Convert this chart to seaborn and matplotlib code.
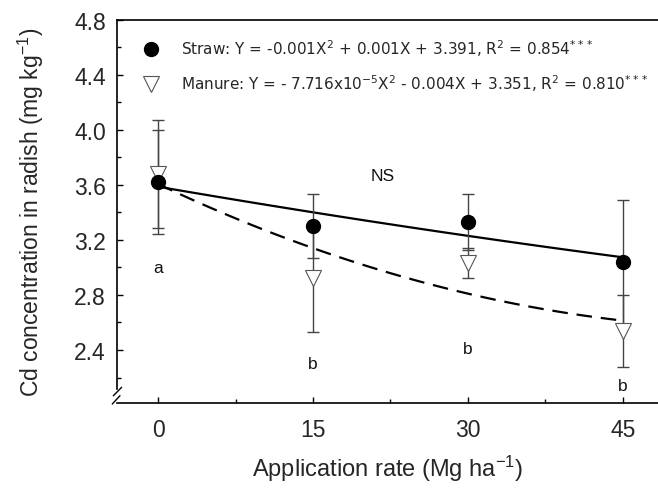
import matplotlib
matplotlib.use('Agg')
import matplotlib.pyplot as plt
from matplotlib.lines import Line2D
from matplotlib.ticker import FixedLocator
import numpy as np
import seaborn as sns

# data
rates = [0, 15, 30, 45]
straw_mean = [3.62, 3.30, 3.33, 3.04]
straw_err = [0.38, 0.235, 0.20, 0.45]
manure_mean = [3.68, 2.92, 3.03, 2.54]
manure_err = [0.39, 0.39, 0.11, 0.26]

# significance letters (x, y, text)
letter_x = [21.7, 0, 15, 30, 45]
letter_y = [3.67, 3.00, 2.30, 2.41, 2.145]
letter_txt = ["NS", "a", "b", "b", "b"]

straw_label = r"Straw: Y = -0.001X$^2$ + 0.001X + 3.391, R$^2$ = 0.854$^{***}$"
manure_label = r"Manure: Y = - 7.716x10$^{-5}$X$^2$ - 0.004X + 3.351, R$^2$ = 0.810$^{***}$"

sns.set_theme(style="ticks")
plt.rcParams['font.family'] = ['Liberation Sans', 'DejaVu Sans']
plt.rcParams['mathtext.default'] = 'regular'

fig = plt.figure(figsize=(6.58, 4.89), dpi=100)
ax = fig.add_axes([117 / 658, 85 / 489, 541 / 658, 383.3 / 489])

# quadratic regression curves through the means
sns.regplot(x=rates, y=straw_mean, order=2, ci=None, scatter=False, ax=ax,
            line_kws={'color': 'black', 'lw': 1.6, 'zorder': 2})
sns.regplot(x=rates, y=manure_mean, order=2, ci=None, scatter=False, ax=ax,
            line_kws={'color': 'black', 'lw': 1.6, 'ls': '--', 'dashes': (7, 4), 'zorder': 2})

# error bars
ax.errorbar(rates, manure_mean, yerr=manure_err, fmt='none', ecolor='#444444',
            elinewidth=1, capsize=4, capthick=1, zorder=2)
ax.errorbar(rates, straw_mean, yerr=straw_err, fmt='none', ecolor='#444444',
            elinewidth=1, capsize=4, capthick=1, zorder=2)

# points
ax.plot(rates, manure_mean, ls='none', marker='v', ms=11.5, mfc='white', mec='#555555',
        mew=0.8, zorder=3)
ax.plot(rates, straw_mean, ls='none', marker='o', ms=10, mfc='black', mec='black', zorder=4)

for x, y, t in zip(letter_x, letter_y, letter_txt):
    ax.text(x, y, t, ha='center', va='center', fontsize=12.5, color='#111111')

handles = [Line2D([], [], ls='none', marker='o', ms=10, mfc='black', mec='black'),
           Line2D([], [], ls='none', marker='v', ms=11.5, mfc='white', mec='#555555', mew=0.8)]
leg = ax.legend(handles, [straw_label, manure_label], loc='upper left',
                bbox_to_anchor=(0.035, 0.97), frameon=False, handlelength=1.2,
                handletextpad=1.35, labelspacing=0.95, borderaxespad=0,
                prop={'family': 'DejaVu Sans', 'size': 11})

ax.set_xlim(-3.97, 48.39)
ax.set_ylim(2.015, 4.8)
ax.xaxis.set_major_locator(FixedLocator(rates))
ax.xaxis.set_minor_locator(FixedLocator([7.5, 22.5, 37.5]))
ax.yaxis.set_major_locator(FixedLocator(np.round(np.arange(2.4, 4.81, 0.4), 1)))
ax.yaxis.set_minor_locator(FixedLocator(np.round(np.arange(2.2, 4.61, 0.4), 1)))
ax.set_yticklabels([f"{v:.1f}" for v in np.arange(2.4, 4.81, 0.4)])

ax.tick_params(which='both', direction='in', color='black', width=1)
ax.tick_params(which='major', length=4.5, labelsize=16.5, pad=8)
ax.tick_params(axis='x', which='major', pad=11)
ax.tick_params(which='minor', length=3)

for s in ['left', 'bottom', 'top']:
    ax.spines[s].set_color('black')
    ax.spines[s].set_linewidth(1.2)
ax.spines['right'].set_visible(False)
ax.spines['left'].set_bounds(2.12, 4.8)

# axis break marks
ax.plot([-0.0068, 0.0087], [0.019, 0.041], color='black', lw=1, transform=ax.transAxes, clip_on=False)
ax.plot([-0.0087, 0.0055], [-0.0026, 0.019], color='black', lw=1, transform=ax.transAxes, clip_on=False)

ax.set_xlabel(r"Application rate (Mg ha$^{-1}$)", fontsize=17, labelpad=8)
ax.set_ylabel(r"Cd concentration in radish (mg kg$^{-1}$)", fontsize=16.5, labelpad=20)

fig.savefig("out.png", dpi=100)
